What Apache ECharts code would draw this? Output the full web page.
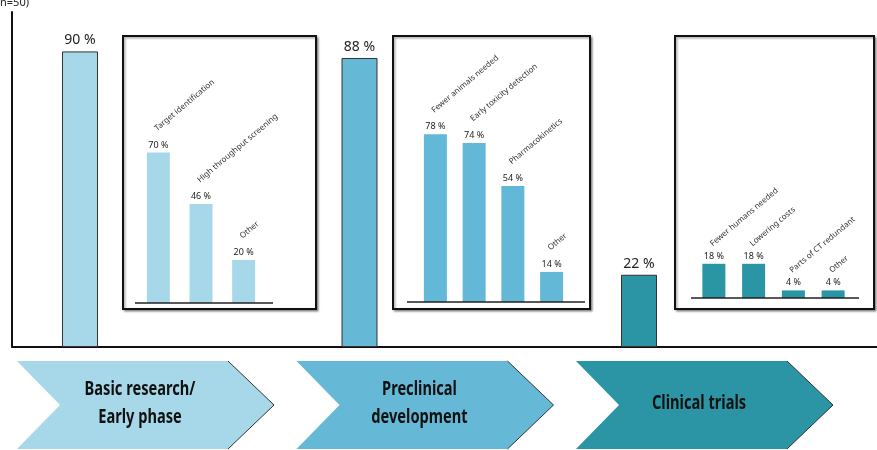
<!DOCTYPE html>
<html><head><meta charset="utf-8">
<script src="https://cdn.jsdelivr.net/npm/echarts@6/dist/echarts.min.js"></script>
<style>html,body{margin:0;padding:0;background:#fff}#c{width:877px;height:450px}</style>
</head><body><div id="c"></div>
<script>
// ---- data ----
const phases = ['Basic research/\nEarly phase', 'Preclinical\ndevelopment', 'Clinical trials'];
const phaseValues = [90, 88, 22];
const inset1Cats = ['Target identification', 'High throughput screening', 'Other'];
const inset1Values = [70, 46, 20];
const inset2Cats = ['Fewer animals needed', 'Early toxicity detection', 'Pharmacokinetics', 'Other'];
const inset2Values = [78, 74, 54, 14];
const inset3Cats = ['Fewer humans needed', 'Lowering costs', 'Parts of CT redundant', 'Other'];
const inset3Values = [18, 18, 4, 4];
const sampleNote = '(n=50)';

// ---- style ----
const phaseColors = ['#a7d8ea', '#66b9d6', '#2b95a5'];
const FONT = 'Noto Sans';

const chart = echarts.init(document.getElementById('c'), null, {renderer: 'canvas'});

function insetSeries(idx, cats, vals, color, nameDist) {
  return [
    {
      type: 'bar', xAxisIndex: idx, yAxisIndex: idx, data: vals, barWidth: 23, barGap: '-100%',
      itemStyle: {color: color}, silent: true,
      label: {show: true, position: 'top', distance: 3, fontSize: 9, fontFamily: FONT, color: '#222',
        formatter: p => p.value + ' %'}
    },
    {
      type: 'bar', xAxisIndex: idx, yAxisIndex: idx, data: vals, barWidth: 23, barGap: '-100%',
      itemStyle: {color: 'rgba(0,0,0,0)'}, silent: true,
      label: {show: true, position: 'top', distance: nameDist, rotate: 40, align: 'left', verticalAlign: 'bottom',
        fontSize: 8, fontFamily: FONT, color: '#333', formatter: p => cats[p.dataIndex]}
    }
  ];
}

const hiddenCat = (gi, cats) => ({gridIndex: gi, type: 'category', data: cats, show: false});
const hiddenVal = (gi) => ({gridIndex: gi, type: 'value', min: 0, max: 100, show: false});

const box = (x, y, w, h) => ({
  type: 'rect', z: 0, shape: {x: x, y: y, width: w, height: h},
  style: {fill: '#fff', stroke: '#111', lineWidth: 2, shadowColor: 'rgba(0,0,0,0.35)', shadowOffsetX: 1.5, shadowOffsetY: 1.5, shadowBlur: 2}
});
const base = (x1, x2, y) => ({
  type: 'line', z: 5, shape: {x1: x1, y1: y, x2: x2, y2: y}, style: {stroke: '#222', lineWidth: 1.5}
});

const option = {
  animation: false,
  backgroundColor: '#fff',
  grid: [
    {left: 12, top: 12, width: 865, height: 335},
    {left: 137, top: 88, width: 128, height: 215},
    {left: 416, top: 87, width: 155, height: 215},
    {left: 694, top: 108, width: 159, height: 190}
  ],
  xAxis: [
    {gridIndex: 0, type: 'value', min: -0.2433, max: 2.8515,
      axisLine: {show: true, onZero: false, lineStyle: {color: '#111', width: 2}},
      axisTick: {show: false}, axisLabel: {show: false}, splitLine: {show: false}},
    hiddenCat(1, inset1Cats), hiddenCat(2, inset2Cats), hiddenCat(3, inset3Cats)
  ],
  yAxis: [
    {gridIndex: 0, type: 'value', min: 0, max: 102,
      axisLine: {show: true, onZero: false, lineStyle: {color: '#111', width: 2}},
      axisTick: {show: false}, axisLabel: {show: false}, splitLine: {show: false}},
    hiddenVal(1), hiddenVal(2), {gridIndex: 3, type: 'value', min: 0, max: 100, show: false}
  ],
  graphic: [
    box(123, 36, 193, 273),
    box(393, 36, 197, 273),
    box(675, 36, 199, 273),
    base(135, 273, 303),
    base(407, 585, 302),
    base(691, 859, 298),
    {type: 'text', z: 5, style: {text: sampleNote, x: 29, y: 8, align: 'right', verticalAlign: 'bottom',
      fontSize: 11, fontFamily: FONT, fill: '#222'}}
  ],
  series: [
    {
      type: 'bar', xAxisIndex: 0, yAxisIndex: 0, barWidth: 36, silent: true,
      data: phaseValues.map((v, i) => ({value: [i, v], itemStyle: {color: phaseColors[i]}})),
      itemStyle: {borderColor: '#333', borderWidth: 1},
      label: {show: true, position: 'top', distance: 4, fontSize: 14, fontFamily: FONT, color: '#222',
        formatter: p => p.value[1] + ' %'}
    },
    {
      type: 'custom', xAxisIndex: 0, yAxisIndex: 0, clip: false, silent: true,
      data: phaseValues.map((v, i) => [i, v]),
      renderItem: (params, api) => {
        const i = api.value(0);
        const pt = api.coord([i, 0]);
        const cx = pt[0], by = pt[1];
        const t = by + 14, m = by + 58, b = by + 102;
        const L = cx - 63, N = cx - 20, R = cx + 148, T = cx + 194;
        return {type: 'group', children: [
          {type: 'polygon', shape: {points: [[L, t], [R, t], [T, m], [R, b], [L, b], [N, m]]},
            style: {fill: phaseColors[i]}},
          {type: 'polyline', shape: {points: [[R, t], [T, m], [R, b]]},
            style: {stroke: '#333', lineWidth: 1, fill: null}},
          {type: 'text', x: cx + 60, y: m - 1, scaleX: 0.77, scaleY: 1,
            style: {text: phases[i], fill: '#111', fontSize: 19, fontWeight: 'bold',
              fontFamily: FONT, align: 'center', verticalAlign: 'middle', lineHeight: 28}}
        ]};
      }
    },
    ...insetSeries(1, inset1Cats, inset1Values, '#a7d8ea', 20),
    ...insetSeries(2, inset2Cats, inset2Values, '#62b8d6', 20),
    ...insetSeries(3, inset3Cats, inset3Values, '#2a95a5', 16)
  ]
};
chart.setOption(option);
</script>
</body></html>
